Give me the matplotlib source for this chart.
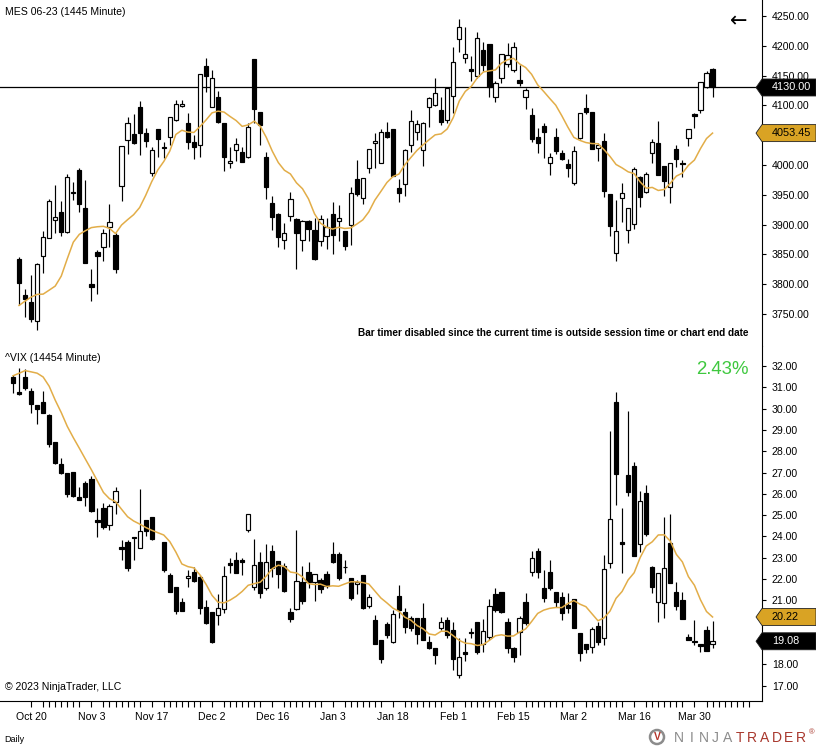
import numpy as np
import pandas as pd
import matplotlib
matplotlib.use("Agg")
import matplotlib.pyplot as plt
from matplotlib.patches import Polygon, Ellipse

plt.rcParams['font.family'] = ['Liberation Sans', 'DejaVu Sans']

# ---- data ----
# x axis: one slot per daily bar, labels every 10 bars
date_labels = ['Oct 20', 'Nov 3', 'Nov 17', 'Dec 2', 'Dec 16', 'Jan 3',
               'Jan 18', 'Feb 1', 'Feb 15', 'Mar 2', 'Mar 16', 'Mar 30']
first_label_slot = 3
label_step = 10

# MES 06-23, slots 1..116
mes_open = [3841.7, 3781.9, 3770.1, 3738.8, 3847.9, 3877.0, 3907.2, 3921.1, 3887.0, 3954.5,
            3991.6, 3927.3, 3800.3, 3854.6, 3861.9, 3895.4, 3882.5, 3964.8, 4041.4, 4051.5,
            4096.8, 4053.1, 3986.0, 4059.8, 4029.6, 4047.0, 4074.9, 4099.0, 4069.9, 4038.0,
            4033.0, 4166.1, 4097.9, 4114.6, 4069.9, 4002.8, 4024.6, 4021.2, 4012.9, 4177.3,
            4088.4, 4012.9, 3935.7, 3917.2, 3874.2, 3914.4, 3908.8, 3874.2, 3906.6, 3890.9,
            3871.9, 3880.9, 3917.2, 3906.0, 3889.3, 3898.8, 3975.9, 3944.1, 3994.4, 4036.4,
            4003.9, 4054.8, 4059.8, 3960.8, 3968.1, 4033.0, 4054.8, 4024.6, 4096.8, 4100.1,
            4092.3, 4075.5, 4115.2, 4210.8, 4179.0, 4160.5, 4149.3, 4193.0, 4203.0, 4114.6,
            4145.4, 4168.9, 4159.4, 4142.6, 4113.5, 4083.9, 4047.5, 4065.4, 4002.8, 4047.5,
            4019.6, 4001.7, 3970.4, 4044.7, 4095.1, 4088.4, 4029.1, 4040.3, 3950.8, 3851.8,
            3944.1, 3890.9, 3900.4, 3980.4, 3954.1, 4020.7, 4036.4, 3998.3, 3962.5, 4026.3,
            4003.3, 4044.7, 4085.6, 4092.3, 4131.4, 4160.5]
mes_high = [3845.0, 3792.5, 3814.9, 3836.0, 3889.3, 3943.0, 3966.4, 3939.0, 3984.9, 3972.0,
            3994.4, 3974.8, 3825.0, 3857.4, 3892.0, 3934.6, 3885.0, 4032.0, 4080.0, 4085.0,
            4107.9, 4061.5, 4030.8, 4060.0, 4039.1, 4081.1, 4109.1, 4109.0, 4086.7, 4050.3,
            4152.1, 4179.0, 4159.4, 4124.7, 4071.0, 4029.6, 4045.9, 4030.8, 4071.0, 4178.0,
            4089.0, 4022.4, 3948.0, 3918.9, 3902.1, 3954.1, 3910.5, 3907.0, 3907.0, 3910.5,
            3916.1, 3910.5, 3937.9, 3932.9, 3890.0, 3963.6, 4008.4, 3978.0, 4026.5, 4054.2,
            4059.8, 4071.6, 4060.0, 3975.9, 4026.3, 4092.3, 4075.5, 4072.7, 4114.6, 4145.4,
            4113.5, 4129.0, 4198.5, 4244.4, 4231.0, 4182.9, 4223.7, 4206.9, 4203.0, 4141.5,
            4186.0, 4204.1, 4205.8, 4167.8, 4128.6, 4095.1, 4061.5, 4071.0, 4019.6, 4061.5,
            4025.2, 4009.5, 4031.9, 4087.0, 4118.6, 4089.0, 4037.5, 4054.2, 3951.0, 3941.3,
            3970.4, 3928.5, 3997.2, 3981.0, 3988.8, 4043.1, 4073.8, 3999.0, 4003.0, 4033.0,
            4008.4, 4060.0, 4086.7, 4139.8, 4157.7, 4162.2]
mes_low = [3765.0, 3745.5, 3737.1, 3723.0, 3819.3, 3877.0, 3885.3, 3881.4, 3885.3, 3941.3,
           3921.7, 3835.0, 3772.4, 3783.5, 3839.5, 3861.9, 3818.2, 3940.2, 4018.5, 4035.2,
           4016.2, 4030.8, 3982.1, 4012.9, 4011.2, 4033.0, 4073.3, 4096.8, 4026.3, 4010.6,
           4012.9, 4123.0, 4097.0, 4071.0, 3990.5, 3994.4, 4006.7, 4004.5, 4012.0, 4071.0,
           4034.1, 3943.0, 3890.9, 3863.0, 3858.5, 3906.6, 3825.0, 3856.3, 3873.0, 3840.6,
           3864.6, 3858.5, 3850.0, 3873.0, 3857.4, 3865.2, 3948.0, 3934.0, 3986.0, 3994.4,
           4002.8, 4046.0, 3982.0, 3938.5, 3948.5, 4021.8, 4041.9, 3998.9, 4064.3, 4099.0,
           4067.1, 4069.9, 4086.7, 4190.2, 4171.7, 4141.5, 4145.4, 4157.7, 4114.6, 4106.3,
           4137.0, 4165.0, 4156.6, 4132.6, 4093.4, 4039.1, 4020.7, 4011.2, 3983.2, 4018.5,
           4009.0, 3979.3, 3966.4, 4043.1, 4085.0, 4026.0, 4007.3, 3945.7, 3881.4, 3839.5,
           3903.8, 3868.6, 3893.2, 3930.0, 3952.5, 4003.9, 3982.5, 3948.0, 3936.8, 3997.2,
           3980.4, 4032.4, 4061.5, 4087.8, 4128.6, 4114.6]
mes_close = [3802.6, 3775.7, 3742.2, 3833.3, 3878.6, 3939.0, 3912.2, 3888.1, 3980.4, 3952.5,
             3934.0, 3836.0, 3794.7, 3847.9, 3885.3, 3904.4, 3825.0, 4031.9, 4069.9, 4036.4,
             4054.2, 4039.7, 4024.6, 4043.1, 4028.6, 4080.0, 4102.9, 4102.9, 4038.6, 4030.8,
             4152.1, 4149.9, 4145.4, 4071.6, 4012.9, 4006.1, 4034.7, 4005.6, 4063.2, 4093.4,
             4066.5, 3963.6, 3913.3, 3879.8, 3885.3, 3943.5, 3886.5, 3906.6, 3892.1, 3842.8,
             3908.8, 3896.5, 3882.0, 3910.5, 3864.6, 3952.5, 3950.8, 3977.6, 4026.3, 4039.7,
             4054.8, 4046.4, 3982.1, 3952.5, 4024.6, 4073.3, 4068.2, 4069.9, 4111.9, 4121.4,
             4071.6, 4128.6, 4172.3, 4231.0, 4185.7, 4158.3, 4212.5, 4167.2, 4130.3, 4137.0,
             4185.7, 4184.6, 4197.4, 4137.0, 4125.8, 4043.1, 4036.4, 4055.9, 4012.9, 4024.0,
             4009.5, 3994.4, 4023.5, 4086.7, 4089.5, 4026.3, 4033.6, 3956.9, 3898.2, 3889.3,
             3952.5, 3928.4, 3993.3, 3946.9, 3984.9, 4039.1, 3982.5, 3973.5, 4002.8, 4009.5,
             4001.7, 4059.8, 4082.2, 4138.7, 4153.8, 4130.0]
# closes before the visible range, only feed the 10 bar SMA
mes_warmup_close = [3703, 3675, 3788, 3874, 3872, 3844, 3721, 3689, 3674]

# ^VIX, slots 0..116 (no bar in slot 24)
vix_open = [31.47, 30.76, 31.47, 30.83, 30.15, 30.33, 29.70, 28.42, 27.40, 26.98,
            27.01, 25.84, 26.51, 26.70, 24.76, 25.32, 24.54, 25.60, 23.49, 23.76,
            23.96, 23.44, 24.77, 24.90, None, 23.76, 22.19, 21.64, 20.91, 22.04,
            22.32, 22.08, 20.71, 20.47, 20.32, 20.58, 22.74, 22.90, 22.88, 24.29,
            21.61, 22.82, 21.57, 23.32, 22.85, 22.63, 20.47, 20.58, 21.85, 22.32,
            21.88, 21.94, 22.22, 23.16, 23.16, 22.58, 22.04, 21.75, 22.19, 20.75,
            20.08, 19.14, 19.88, 19.03, 21.21, 20.47, 20.19, 20.19, 20.19, 19.03,
            18.78, 19.69, 20.08, 19.61, 17.50, 18.56, 19.50, 19.97, 18.94, 19.27,
            21.29, 21.41, 20.00, 18.75, 19.50, 20.91, 22.35, 23.32, 21.57, 22.32,
            21.41, 21.14, 20.79, 21.07, 19.46, 18.94, 18.83, 19.80, 19.22, 22.74,
            30.30, 23.73, 26.89, 27.31, 23.63, 26.04, 22.58, 20.91, 20.86, 23.68,
            21.38, 21.02, 19.27, 19.10, 18.94, 19.61, 18.94]
vix_high = [31.58, 31.89, 31.86, 30.95, 30.16, 30.83, 29.75, 28.43, 27.67, 26.98,
            27.01, 26.31, 26.60, 26.85, 25.32, 25.56, 25.51, 26.31, 23.83, 23.83,
            23.99, 26.23, 24.78, 24.90, None, 23.76, 22.27, 21.65, 21.10, 22.43,
            22.58, 22.19, 21.02, 20.47, 21.29, 22.61, 22.97, 23.26, 22.97, 25.04,
            23.88, 23.29, 23.63, 23.60, 22.85, 22.74, 20.66, 24.30, 22.61, 22.79,
            22.22, 22.04, 22.38, 23.76, 23.26, 22.90, 22.04, 21.96, 22.19, 21.29,
            20.32, 19.14, 20.00, 20.55, 21.72, 20.66, 20.28, 20.19, 20.86, 19.35,
            18.78, 20.24, 20.24, 20.00, 19.22, 19.22, 19.72, 19.97, 20.13, 21.05,
            21.57, 21.41, 20.16, 18.83, 20.28, 21.33, 23.32, 23.44, 22.43, 22.90,
            21.41, 21.41, 21.33, 21.07, 19.46, 18.94, 19.77, 20.00, 23.13, 28.95,
            30.80, 25.32, 29.89, 27.51, 26.15, 26.42, 22.63, 22.27, 24.93, 25.04,
            21.85, 21.41, 19.41, 20.08, 18.94, 19.81, 20.03]
vix_low = [30.72, 30.64, 30.87, 29.78, 29.26, 29.80, 28.21, 27.39, 26.95, 25.87,
           25.87, 25.70, 25.45, 25.13, 23.99, 24.34, 24.29, 25.04, 22.90, 22.40,
           22.90, 23.44, 24.04, 23.83, None, 22.32, 21.38, 20.35, 20.52, 21.64,
           21.85, 20.35, 19.88, 18.99, 19.85, 20.39, 22.27, 22.27, 22.19, 24.23,
           21.49, 21.10, 21.49, 22.11, 21.60, 21.38, 19.97, 20.55, 20.82, 21.60,
           20.99, 21.36, 21.60, 22.74, 21.96, 22.30, 21.02, 21.29, 20.60, 20.63,
           18.94, 18.05, 19.22, 18.99, 20.19, 19.46, 19.56, 18.94, 19.13, 18.72,
           18.00, 19.61, 19.22, 17.73, 17.37, 18.16, 19.25, 18.47, 18.56, 19.14,
           20.47, 20.42, 18.52, 18.13, 18.44, 19.85, 22.16, 22.04, 20.91, 21.49,
           20.71, 20.08, 20.39, 19.69, 18.17, 18.52, 18.52, 18.91, 18.91, 22.54,
           25.48, 22.30, 25.92, 23.10, 23.29, 24.04, 21.33, 19.97, 20.19, 21.83,
           20.55, 20.11, 19.14, 18.91, 18.56, 18.63, 18.75]
vix_close = [31.22, 30.67, 30.95, 30.23, 29.97, 29.81, 28.36, 27.46, 27.00, 26.01,
             25.92, 25.70, 25.87, 25.21, 24.66, 24.46, 25.41, 26.13, 23.40, 22.51,
             23.91, 24.27, 24.27, 23.88, None, 22.43, 21.38, 20.52, 20.52, 22.15,
             21.91, 20.63, 19.92, 19.03, 20.63, 22.15, 22.66, 22.30, 22.82, 25.04,
             22.66, 21.33, 22.79, 22.51, 22.25, 21.46, 20.11, 21.91, 20.99, 21.85,
             22.22, 21.52, 21.69, 22.82, 22.04, 22.55, 21.13, 21.88, 20.66, 21.18,
             18.94, 18.23, 19.38, 20.35, 20.55, 19.77, 19.72, 19.41, 19.13, 18.75,
             18.44, 20.00, 19.38, 18.25, 18.36, 18.47, 19.47, 18.56, 19.58, 20.75,
             20.55, 20.47, 18.75, 18.33, 20.19, 19.92, 22.97, 22.35, 21.13, 21.60,
             20.94, 20.42, 20.66, 19.72, 18.52, 18.72, 19.66, 19.06, 22.46, 24.82,
             26.92, 23.63, 26.07, 23.10, 25.66, 24.13, 21.64, 22.27, 22.52, 21.83,
             20.72, 20.11, 19.14, 19.05, 18.85, 18.63, 19.08]
vix_warmup_close = [29.5, 29.7, 30.8, 30.6, 31.6, 32.7, 34.0, 32.8, 32.5]

SMA_PERIOD = 10
GOLD = '#E2AD48'

# ---- figure in pixel terms ----
W, H = 816, 748
fig = plt.figure(figsize=(W / 100, H / 100), dpi=100)


def px_box(x0, y0, x1, y1):
    return [x0 / W, 1 - y1 / H, (x1 - x0) / W, (y1 - y0) / H]


AXR = 762
ax1 = fig.add_axes(px_box(0, 0, AXR, 346))
ax2 = fig.add_axes(px_box(0, 346, AXR, 700.7))


def draw_candles(ax, x, o, h, l, c):
    x = np.asarray(x, float)
    o, h, l, c = (np.array(v, dtype=float) for v in (o, h, l, c))
    ok = ~np.isnan(o)
    x, o, h, l, c = x[ok], o[ok], h[ok], l[ok], c[ok]
    up = c >= o
    ax.vlines(x, l, h, color='black', linewidth=0.85, zorder=2)
    ax.bar(x, np.abs(c - o), width=0.7, bottom=np.minimum(o, c),
           color=np.where(up, 'white', 'black'), edgecolor='black',
           linewidth=0.85, zorder=3)


def sma_line(ax, x, close, warmup):
    x = np.asarray(x, float)
    c = np.array(close, dtype=float)
    ok = ~np.isnan(c)
    s = pd.Series(list(warmup) + list(c[ok])).rolling(SMA_PERIOD).mean()
    s = s.iloc[len(warmup):].to_numpy()
    ax.plot(x[ok], s, color=GOLD, linewidth=1.1, zorder=4)
    return s[-1]


mes_x = np.arange(1, len(mes_close) + 1)
vix_x = np.arange(len(vix_close))

draw_candles(ax1, mes_x, mes_open, mes_high, mes_low, mes_close)
mes_sma_last = sma_line(ax1, mes_x, mes_close, mes_warmup_close)
ax1.axhline(mes_close[-1], color='black', linewidth=0.9, zorder=1)

draw_candles(ax2, vix_x, vix_open, vix_high, vix_low, vix_close)
vix_sma_last = sma_line(ax2, vix_x, vix_close, vix_warmup_close)

# ---- axes ----
xlim = (-2.156, 124.2)
for ax in (ax1, ax2):
    ax.set_xlim(*xlim)
    ax.set_facecolor('white')
    for side in ('top', 'left', 'bottom'):
        ax.spines[side].set_visible(False)
    ax.spines['right'].set_linewidth(0.8)
    ax.yaxis.tick_right()
    ax.tick_params(axis='y', direction='out', length=3, width=0.8, pad=4,
                   labelsize=7.6, colors='black')

ax1.set_ylim(3696.2, 4276.8)
ax2.set_ylim(16.29, 32.94)
ax1.tick_params(axis='x', bottom=False, labelbottom=False)
ax2.spines['bottom'].set_visible(True)
ax2.spines['bottom'].set_linewidth(0.8)


def price_axis(ax, ticks, tags):
    # labels that sit under a price tag are hidden by it
    tag_px = [ax.transData.transform((0, t))[1] for t in tags]
    labels = []
    for v in ticks:
        py = ax.transData.transform((0, v))[1]
        covered = any(abs(py - t) < 6 for t in tag_px)
        labels.append('' if covered else f"{v:.2f}")
    ax.set_yticks(ticks)
    ax.set_yticklabels(labels)


price_axis(ax1, np.arange(3750, 4251, 50), [mes_close[-1], mes_sma_last])
price_axis(ax2, np.arange(17, 33, 1), [vix_close[-1], vix_sma_last])

major = [first_label_slot + label_step * i for i in range(len(date_labels))]
xt, xl = [], []
for s in range(first_label_slot, 123):
    if s in major:
        xt.append(s)
        xl.append(date_labels[major.index(s)])
    elif (s - 1) in major or (s + 1) in major:
        continue
    else:
        xt.append(s)
        xl.append('')
ax2.set_xticks(xt)
ax2.set_xticklabels(xl)
ax2.tick_params(axis='x', direction='out', length=4, width=0.8, pad=4,
                labelsize=7.6)


# ---- price tags on the right scale ----
def price_tag(ax, value, face, fg):
    y = ax.transData.transform((0, value))[1]
    tip, x0, x1, hh = 756, 762, 816, 8.5
    pts = [(tip, y), (x0, y + hh), (x1, y + hh), (x1, y - hh), (x0, y - hh)]
    fig.add_artist(Polygon([(px / W, py / H) for px, py in pts], closed=True,
                           transform=fig.transFigure, facecolor=face,
                           edgecolor='#222222', linewidth=0.6, zorder=5))
    fig.text(772 / W, y / H, f"{value + 1e-6:.2f}", color=fg, ha='left',
             va='center', fontsize=7.8, zorder=6)


price_tag(ax1, mes_close[-1], 'black', 'white')
price_tag(ax1, mes_sma_last, '#D9A324', 'black')
price_tag(ax2, vix_sma_last, '#D9A324', 'black')
price_tag(ax2, vix_close[-1], 'black', 'white')

# ---- texts ----
fig.text(5 / W, 1 - 12 / H, "MES 06-23 (1445 Minute)", fontsize=7.6, va='center')
fig.text(5 / W, 1 - 358 / H, "^VIX (14454 Minute)", fontsize=7.6, va='center')
fig.text(749 / W, 1 - 333 / H,
         "Bar timer disabled since the current time is outside session time or chart end date",
         fontsize=7.2, fontweight='bold', ha='right', va='center')
fig.text(749 / W, 1 - 370 / H, "2.43%", fontsize=13.4, color='#3FC83F',
         ha='right', va='center')
fig.text(739 / W, 1 - 21 / H, "\u2190", fontsize=15, family='DejaVu Sans',
         ha='center', va='center')
fig.text(5 / W, 1 - 687 / H, "\u00a9 2023 NinjaTrader, LLC", fontsize=7.6, va='center')
fig.text(4 / W, 1 - 739 / H, "Daily", fontsize=6.5, va='center')

# NinjaTrader logo, bottom right
fig.add_artist(Ellipse((657 / W, 1 - 737 / H), 14 / W, 14 / H, transform=fig.transFigure,
                       facecolor='none', edgecolor='#8c8c8c', linewidth=1.8, zorder=5))
fig.text(657 / W, 1 - 737 / H, "V", fontsize=7.5, color='#b5352b', fontweight='bold',
         ha='center', va='center', zorder=6)
for i, ch in enumerate("NINJATRADER"):
    fig.text((679 + 12.2 * i) / W, 1 - 738 / H, ch, fontsize=10,
             color='#8c8c8c' if i < 5 else '#a8372c', ha='center', va='center')
fig.text(812 / W, 1 - 733 / H, "\u00ae", fontsize=5.5, color='#a8372c', ha='center', va='center')

fig.savefig("out.png", dpi=100, facecolor='white')
